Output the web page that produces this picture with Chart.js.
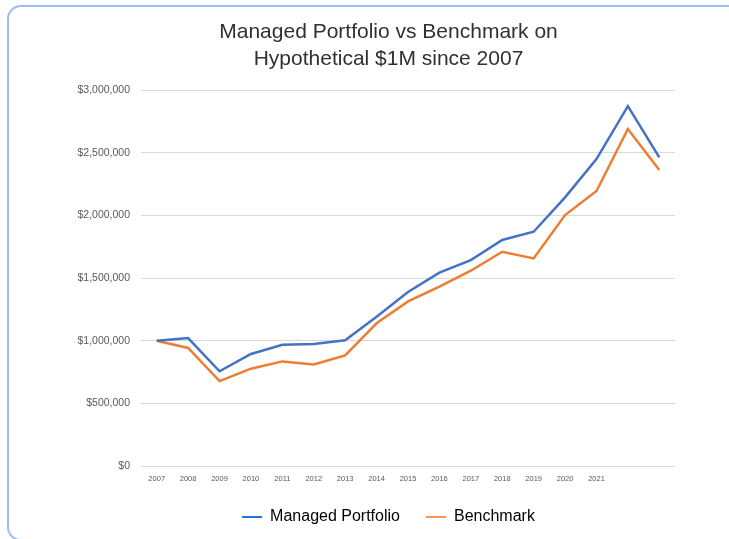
<!DOCTYPE html>
<html>
<head>
<meta charset="utf-8">
<script src="https://cdn.jsdelivr.net/npm/chart.js@4/dist/chart.umd.min.js"></script>
<style>
  html, body { margin: 0; padding: 0; background: #fff; overflow: hidden; }
  #wrap { position: relative; width: 729px; height: 539px; overflow: hidden; }
  #frame {
    position: absolute; left: 7px; top: 5px; width: 760px; height: 536px;
    border: 2px solid #9cc0e8; border-radius: 14px; box-sizing: border-box;
  }
  #chart { position: absolute; left: 0; top: 0; }
</style>
</head>
<body>
<div id="wrap">
  <div id="frame"></div>
  <canvas id="chart" width="729" height="539"></canvas>
</div>
<script>
// x labels stop at 2021 in the original, last two points are unlabeled
const years = ["2007", "2008", "2009", "2010", "2011", "2012", "2013", "2014", "2015",
  "2016", "2017", "2018", "2019", "2020", "2021", "", ""];
const managed = [1000000, 1021000, 756000, 894000, 968000, 974000, 1003000, 1192000, 1389000,
  1543000, 1644000, 1804000, 1870000, 2144000, 2450000, 2873000, 2464000];
const benchmark = [1000000, 942000, 678000, 777000, 835000, 811000, 883000, 1139000, 1314000,
  1431000, 1559000, 1710000, 1657000, 2003000, 2195000, 2690000, 2362000];

const seriesNames = ["Managed Portfolio", "Benchmark"];
const lineColors = ["#4472c4", "#ed7d31"];
const legendColors = ["#1f77d4", "#f7954a"];

const font = "'Liberation Sans', Arial, sans-serif";

// title and legend sit centred on the frame, not on the plot
const recentre = {
  id: "recentre",
  afterLayout(chart) {
    [chart.titleBlock, chart.legend].forEach((box) => {
      box.left += 51;
      box.right += 51;
    });
  }
};

const ctx = document.getElementById("chart").getContext("2d");
new Chart(ctx, {
  type: "line",
  data: {
    labels: years,
    datasets: [
      { label: seriesNames[0], data: managed, borderColor: lineColors[0], backgroundColor: lineColors[0] },
      { label: seriesNames[1], data: benchmark, borderColor: lineColors[1], backgroundColor: lineColors[1] }
    ]
  },
  plugins: [recentre],
  options: {
    responsive: false,
    animation: false,
    layout: { padding: { left: 0, right: 54, top: 0, bottom: 4 } },
    elements: {
      line: { borderWidth: 2.5, tension: 0 },
      point: { radius: 0, hoverRadius: 0 }
    },
    plugins: {
      title: {
        display: true,
        text: ["Managed Portfolio vs Benchmark on", "Hypothetical $1M since 2007"],
        color: "#303030",
        font: { family: font, size: 21, weight: "normal", lineHeight: 1.29 },
        padding: { top: 19, bottom: 17 }
      },
      legend: {
        position: "bottom",
        labels: {
          color: "#262626",
          font: { family: font, size: 16 },
          boxWidth: 20,
          boxHeight: 2,
          padding: 26,
          generateLabels: (chart) => seriesNames.map((name, i) => ({
            text: name,
            fillStyle: legendColors[i],
            strokeStyle: legendColors[i],
            lineWidth: 0,
            datasetIndex: i,
            hidden: false
          }))
        }
      },
      tooltip: { enabled: false }
    },
    scales: {
      x: {
        offset: true,
        grid: { display: false },
        border: { display: false },
        ticks: {
          color: "#595959",
          font: { family: font, size: 7.5 },
          maxRotation: 0,
          autoSkip: false,
          padding: 0
        }
      },
      y: {
        min: 0,
        max: 3000000,
        afterFit: (scale) => { scale.width = 141; },
        grid: { color: "#d9d9d9", lineWidth: 1, drawTicks: false },
        border: { display: false },
        ticks: {
          stepSize: 500000,
          color: "#595959",
          font: { family: font, size: 10.5 },
          padding: 11,
          callback: (v) => "$" + Number(v).toLocaleString("en-US")
        }
      }
    }
  }
});
</script>
</body>
</html>
